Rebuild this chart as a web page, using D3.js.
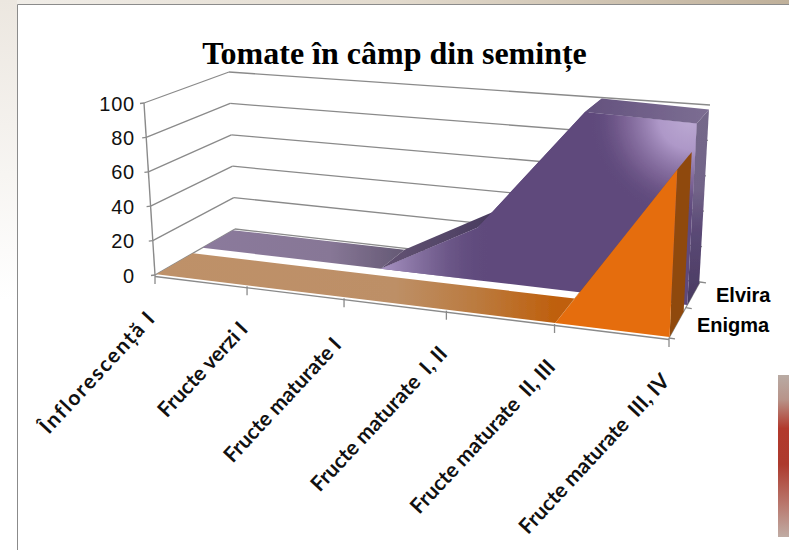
<!DOCTYPE html>
<html><head><meta charset="utf-8">
<script src="https://cdn.jsdelivr.net/npm/d3@7"></script>
<style>html,body{margin:0;padding:0;background:#fff}svg{display:block}text{white-space:pre}</style>
</head><body><svg id="c" width="789" height="550"></svg>
<script>
const categories = ["Înflorescență I","Fructe verzi I","Fructe maturate I ","Fructe maturate  I, II","Fructe maturate  II, III","Fructe maturate  III, IV"];
const seriesNames = ["Enigma","Elvira"];
const enigma = [0,0,0,0,0,85];
const elvira = [0,0,0,30,100,98];
const valueTicks = [0,20,40,60,80,100];
const chartTitle = "Tomate în câmp din semințe";

// perspective box corners
const FL=[155,275],FR=[669,338],BL=[235,229],BR=[700,282];
const FLt=[144,103],FRt=[678,141],BLt=[229,72],BRt=[710,105];
const lerp=(a,b,t)=>[a[0]+(b[0]-a[0])*t,a[1]+(b[1]-a[1])*t];
const uScale=d3.scalePoint(categories,[0,1]);
const vScale=d3.scaleLinear([0,100],[0,1]);
const wScale=d3.scaleBand(seriesNames,[0.015,0.97]).paddingInner(0.22);
const persp=(t,k)=>t/(t+k*(1-t));
function P(cat,w,v){
  const su=persp(uScale(cat),1.146), sw=persp(w,0.85);
  const base=lerp(lerp(FL,FR,su),lerp(BL,BR,su),sw);
  const top=lerp(lerp(FLt,FRt,su),lerp(BLt,BRt,su),sw);
  return lerp(base,top,vScale(v));
}
const svg=d3.select("#c");
const defs=svg.append("defs");
function lg(id,x1,y1,x2,y2,stops){
  const g=defs.append("linearGradient").attr("id",id).attr("gradientUnits","userSpaceOnUse")
    .attr("x1",x1).attr("y1",y1).attr("x2",x2).attr("y2",y2);
  stops.forEach(s=>g.append("stop").attr("offset",s[0]).attr("stop-color",s[1]).attr("stop-opacity",s[2]===undefined?1:s[2]));
}
lg("topStrip",0,0,789,0,[[0,"#f1eee9"],[.5,"#e2dacd"],[1,"#bfb09a"]]);
lg("leftStrip",0,0,0,300,[[0,"#ece7e0"],[1,"#ffffff"]]);
lg("deco",0,375,0,537,[[0,"#b9aba4"],[.15,"#b8948a"],[.33,"#b2392c"],[.55,"#ad3a2d"],[.8,"#b9786e"],[1,"#c0aca4"]]);
lg("enFlat",150,0,560,0,[[0,"#be9169"],[.6,"#bd8f66"],[.8,"#bb7a3e"],[1,"#bf5e0a"]]);
lg("elFlat",200,0,400,0,[[0,"#8b7a9c"],[.65,"#877796"],[1,"#665a76"]]);
lg("elRise",400,0,500,0,[[0,"#5f5070"],[1,"#473a5e"]]);
lg("elTop",590,0,710,0,[[0,"#64527e"],[.6,"#74648c"],[1,"#7c6e92"]]);
lg("elSide",0,108,0,310,[[0,"#74688a"],[.4,"#726488"],[.6,"#5b4a76"],[1,"#48395f"]]);
lg("elFrontL",385,0,490,0,[[0,"#a48fbf",1],[.4,"#84709f",.8],[1,"#604a7c",0]]);
const rg=defs.append("radialGradient").attr("id","elFrontR").attr("gradientUnits","userSpaceOnUse")
  .attr("cx",690).attr("cy",118).attr("r",125);
[[0,"#bcaad3",1],[.25,"#ae98c8",1],[.55,"#7f6698",.75],[.8,"#604a7c",0]].forEach(s=>rg.append("stop").attr("offset",s[0]).attr("stop-color",s[1]).attr("stop-opacity",s[2]));
defs.append("filter").attr("id","soft").append("feGaussianBlur").attr("stdDeviation",0.5);

// page chrome
svg.append("rect").attr("width",789).attr("height",550).attr("fill","#fff");
svg.append("rect").attr("width",789).attr("height",4).attr("fill","url(#topStrip)");
svg.append("rect").attr("y",0).attr("width",17).attr("height",300).attr("fill","url(#leftStrip)");
svg.append("path").attr("d","M17.5,550V4.5H789").attr("fill","none").attr("stroke","#8b8b8b").attr("stroke-width",1);
svg.append("rect").attr("x",778).attr("y",375).attr("width",11).attr("height",162).attr("fill","url(#deco)");

const line=d3.line();
const poly=(pts,fill,parent=plot)=>parent.append("path").attr("d",line(pts)+"Z").attr("fill",fill);
const seg=(a,b,sw=1.3)=>grid.append("path").attr("d",line([a,b])).attr("stroke","#8a8a8a").attr("stroke-width",sw).attr("fill","none");

const grid=svg.append("g").attr("filter","url(#soft)");
const plot=svg.append("g").attr("filter","url(#soft)");
const last=categories[categories.length-1];

// walls gridlines and value axis
valueTicks.forEach(v=>{
  const f=lerp(FL,FLt,vScale(v)), b=lerp(BL,BLt,vScale(v)), r=lerp(BR,BRt,vScale(v));
  seg(f,b); seg(b,r);
  seg(f,[f[0]-4,f[1]+0.5]);
});
seg(FL,FLt,1.4);

// series surfaces: consecutive steps sharing a fill are one polygon
function drawSeries(name,vals,fills){
  const z0=wScale(name), z1=z0+wScale.bandwidth();
  let start=0;
  for(let i=1;i<categories.length;i++){
    if(i===categories.length-1 || fills.top(i)!==fills.top(start)){
      const run=categories.slice(start,i+1);
      const off=start;
      poly(run.map((c,j)=>P(c,z1,vals[off+j])).concat(run.map((c,j)=>P(c,z0,vals[off+j])).reverse()),fills.top(start));
      start=i;
    }
  }
  poly([P(last,z0,0),P(last,z1,0),P(last,z1,vals[5]),P(last,z0,vals[5])],fills.side);
  const front=categories.map((c,i)=>P(c,z0,vals[i]));
  const floor=categories.map(c=>P(c,z0,0)).reverse();
  fills.front.forEach(f=>poly(front.concat(floor),f));
}
drawSeries("Elvira",elvira,{
  top:i=>i<2?"url(#elFlat)":i===2?"url(#elRise)":i===3?"#5f4a7c":"url(#elTop)",
  side:"url(#elSide)",front:["#5f4a7c","url(#elFrontL)","url(#elFrontR)"]});
drawSeries("Enigma",enigma,{
  top:i=>i<4?"url(#enFlat)":"#8f4a0a",side:"#8f4a0a",front:["#e56d0a"]});

// floor edges and ticks
seg([FL[0],FL[1]+1.5],[FR[0],FR[1]+1.5],1.4);
seg(FR,BR,1.2);
categories.forEach(c=>{
  const p=P(c,0,0);
  seg(p,[p[0],p[1]+9]);
});
[0,.5,1].forEach(t=>{
  const p=lerp(FR,BR,persp(t,.85));
  seg(p,[p[0]+6,p[1]+0.8]);
});

// text
svg.append("text").text(chartTitle).attr("x",394.5).attr("y",64).attr("text-anchor","middle")
  .attr("font-family","'Liberation Serif'").attr("font-weight","bold").attr("font-size",32).attr("fill","#000");
valueTicks.forEach(v=>{
  const f=lerp(FL,FLt,vScale(v));
  svg.append("text").text(v).attr("x",135).attr("y",f[1]+7.5).attr("text-anchor","end")
    .attr("font-family","'Liberation Sans'").attr("font-size",20).attr("letter-spacing",0.8).attr("fill","#111");
});
categories.forEach((c,i)=>{
  const p=P(c,0,0);
  svg.append("text").text(c).attr("text-anchor","end")
    .attr("transform",`translate(${p[0]+2},${p[1]+44}) rotate(-47)`)
    .attr("font-family","Lato").attr("font-weight","bold").attr("font-size",21).attr("fill","#111")
    .attr("letter-spacing",i===0?1.7:0);
});
const lx={Elvira:716,Enigma:697}, ly={Elvira:302,Enigma:332};
seriesNames.forEach(s=>svg.append("text").text(s).attr("x",lx[s]).attr("y",ly[s])
  .attr("font-family","'Liberation Sans'").attr("font-weight","bold").attr("font-size",20).attr("fill","#000"));
</script></body></html>
